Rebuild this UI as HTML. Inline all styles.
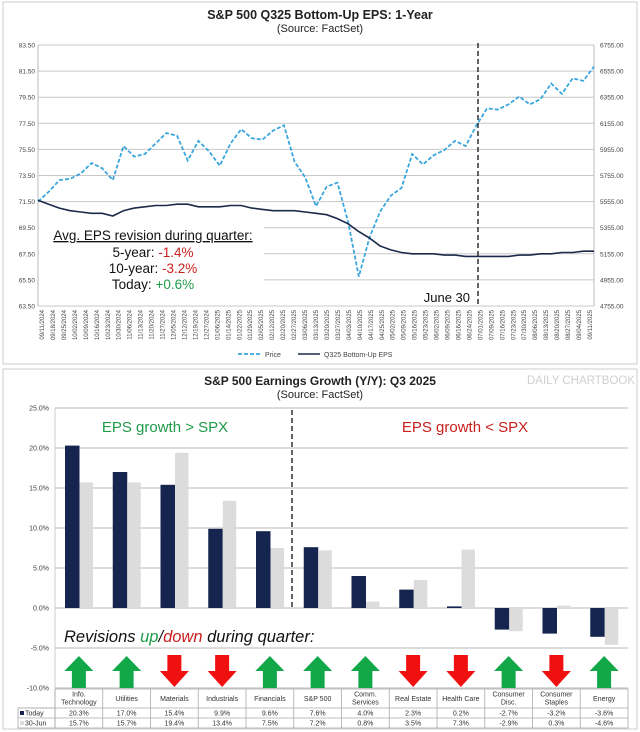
<!DOCTYPE html>
<html><head><meta charset="utf-8"><style>
html,body{margin:0;padding:0;background:#fff;}
svg{display:block;font-family:"Liberation Sans",Arial,sans-serif;}
</style></head><body>
<svg id="c" width="640" height="732" viewBox="0 0 640 732" xmlns="http://www.w3.org/2000/svg">
<rect x="3" y="2" width="634" height="362" fill="#fff" stroke="#ccc"/>
<rect x="3" y="369" width="634" height="360" fill="#fff" stroke="#ccc"/>
<text x="320" y="19" text-anchor="middle" font-size="12.5" font-weight="bold" fill="#222">S&amp;P 500 Q325 Bottom-Up EPS: 1-Year</text>
<text x="320" y="32" text-anchor="middle" font-size="11" fill="#222">(Source: FactSet)</text>
<g id="topg"></g>
<text x="320" y="385" text-anchor="middle" font-size="12" font-weight="bold" fill="#222">S&amp;P 500 Earnings Growth (Y/Y): Q3 2025</text>
<text x="320" y="398" text-anchor="middle" font-size="11" fill="#222">(Source: FactSet)</text>
<text x="635" y="384" text-anchor="end" font-size="11.5" fill="#d0d0d0">DAILY CHARTBOOK</text>
<g id="botg"></g>
</svg>
<script>
const NS="http://www.w3.org/2000/svg";
// ---------- top chart data ----------
const dateLabels=["09/11/2024","09/18/2024","09/25/2024","10/02/2024","10/09/2024","10/16/2024","10/23/2024","10/30/2024","11/06/2024","11/13/2024","11/20/2024","11/27/2024","12/05/2024","12/12/2024","12/19/2024","12/27/2024","01/06/2025","01/14/2025","01/22/2025","01/29/2025","02/05/2025","02/12/2025","02/20/2025","02/27/2025","03/06/2025","03/13/2025","03/20/2025","03/27/2025","04/03/2025","04/10/2025","04/17/2025","04/25/2025","05/02/2025","05/09/2025","05/16/2025","05/23/2025","06/02/2025","06/09/2025","06/16/2025","06/24/2025","07/01/2025","07/09/2025","07/16/2025","07/23/2025","07/30/2025","08/06/2025","08/13/2025","08/20/2025","08/27/2025","09/04/2025","09/11/2025"];
const priceValues=[5555,5630,5720,5730,5770,5850,5810,5720,5980,5900,5920,6000,6080,6060,5870,6020,5940,5830,6000,6110,6040,6030,6100,6140,5860,5740,5520,5670,5700,5400,4980,5280,5480,5600,5660,5920,5840,5910,5950,6020,5980,6140,6270,6260,6300,6360,6300,6340,6460,6380,6500,6480,6590];
const epsValues=[71.6,71.3,71.0,70.8,70.7,70.6,70.6,70.4,70.8,71.0,71.1,71.2,71.2,71.3,71.3,71.1,71.1,71.1,71.2,71.2,71.0,70.9,70.8,70.8,70.8,70.7,70.6,70.5,70.2,69.8,69.2,68.7,68.1,67.8,67.6,67.5,67.5,67.5,67.4,67.4,67.3,67.3,67.3,67.3,67.3,67.4,67.4,67.5,67.5,67.6,67.6,67.7,67.7];
const leftTicks=["83.50","81.50","79.50","77.50","75.50","73.50","71.50","69.50","67.50","65.50","63.50"];
const rightTicks=["6755.00","6555.00","6355.00","6155.00","5955.00","5755.00","5555.00","5355.00","5155.00","4955.00","4755.00"];
// ---------- bottom chart data ----------
const categories=["Info. Technology","Utilities","Materials","Industrials","Financials","S&P 500","Comm. Services","Real Estate","Health Care","Consumer Disc.","Consumer Staples","Energy"];
const todayValues=[20.3,17.0,15.4,9.9,9.6,7.6,4.0,2.3,0.2,-2.7,-3.2,-3.6];
const juneValues=[15.7,15.7,19.4,13.4,7.5,7.2,0.8,3.5,7.3,-2.9,0.3,-4.6];
const revisions=["up","up","down","down","up","up","up","down","down","up","down","up"];
const pctTicks=[25,20,15,10,5,0,-5,-10];

function el(tag,attrs,parent,text){const e=document.createElementNS(NS,tag);for(const k in attrs)e.setAttribute(k,attrs[k]);if(text!==undefined)e.textContent=text;parent.appendChild(e);return e;}
const topG=document.getElementById('topg'),botG=document.getElementById('botg');
const PX0=38,PX1=594,PY0=45,PY1=306;
const yL=v=>PY0+(83.5-v)/20*(PY1-PY0);
const yR=v=>PY0+(6755-v)/2000*(PY1-PY0);
const xT=i=>PX0+i/(priceValues.length-1)*(PX1-PX0);
for(let i=0;i<leftTicks.length;i++){
  const y=PY0+i*(PY1-PY0)/10;
  let g=el('line',{x1:PX0,x2:PX1,y1:y,y2:y,stroke:'#c8c8c8','stroke-width':1},topG);
  
  let t=el('text',{x:PX0-3,y:y+2.5,'text-anchor':'end','font-size':6.5,fill:'#444'},topG,leftTicks[i]);
  
  let r=el('text',{x:PX1+6,y:y+2.5,'font-size':6.5,fill:'#444'},topG,rightTicks[i]);
  
}
el('line',{x1:PX0,x2:PX0,y1:PY0,y2:PY1,stroke:'#bbb'},topG);
el('line',{x1:PX1,x2:PX1,y1:PY0,y2:PY1,stroke:'#bbb'},topG);
dateLabels.forEach((d,i)=>{
  const x=PX0+4+i*(PX1-PX0-8)/(dateLabels.length-1);
  const t=el('text',{x:0,y:0,'font-size':6,fill:'#444','text-anchor':'end',transform:`translate(${x+2},${PY1+4}) rotate(-90)`},topG,d);
  
});
let box=el('rect',{x:39,y:218,width:225,height:86,fill:'#fff'},topG);

const pPts=priceValues.map((v,i)=>xT(i).toFixed(1)+','+yR(v).toFixed(1)).join(' ');
let pl=el('polyline',{points:pPts,fill:'none',stroke:'#3aa6dd','stroke-width':1.8,'stroke-dasharray':'4,2'},topG);

const ePts=epsValues.map((v,i)=>xT(i).toFixed(1)+','+yL(v).toFixed(1)).join(' ');
let ep=el('polyline',{points:ePts,fill:'none',stroke:'#1b2a4a','stroke-width':1.6},topG);

let jl=el('line',{x1:478,x2:478,y1:PY0-2,y2:PY1,stroke:'#111','stroke-width':1.3,'stroke-dasharray':'5,3'},topG);

let jt=el('text',{x:470,y:302,'text-anchor':'end','font-size':13,fill:'#111'},topG,'June 30');

const ann=[['Avg. EPS revision during quarter:',null,240],['5-year: ','-1.4%',257],['10-year: ','-3.2%',273],['Today: ','+0.6%',289]];
ann.forEach((a,i)=>{
  const t=el('text',{x:153,y:a[2],'text-anchor':'middle','font-size':13.5,fill:'#111','text-decoration':i==0?'underline':'none'},topG);
  
  el('tspan',{},t,a[0]);
  if(a[1])el('tspan',{fill:a[1][0]=='+'?'#1f9b4a':'#c8201e'},t,a[1]);
});
let lg=el('g',{},topG);
el('line',{x1:238,x2:260,y1:354,y2:354,stroke:'#3aa6dd','stroke-width':1.8,'stroke-dasharray':'4,2'},lg);
el('text',{x:265,y:357,'font-size':7,fill:'#444'},lg,'Price');
el('line',{x1:298,x2:320,y1:354,y2:354,stroke:'#1b2a4a','stroke-width':1.6},lg);
el('text',{x:324,y:357,'font-size':7,fill:'#444'},lg,'Q325 Bottom-Up EPS');

const BX0=55,BX1=628,BY25=408,SC=8;
const yB=v=>BY25+(25-v)*SC;
const cw=(BX1-BX0)/categories.length;
pctTicks.forEach(v=>{
  const y=yB(v);
  let g=el('line',{x1:BX0,x2:BX1,y1:y,y2:y,stroke:'#c8c8c8','stroke-width':1.2},botG);
  
  let t=el('text',{x:BX0-6,y:y+2.5,'text-anchor':'end','font-size':7,fill:'#444'},botG,v.toFixed(1)+'%');
  
});
el('line',{x1:BX0,x2:BX0,y1:BY25,y2:yB(-10),stroke:'#ccc'},botG);
categories.forEach((c,i)=>{
  const x0=BX0+i*cw;
  const t=todayValues[i],j=juneValues[i];
  let b1=el('rect',{x:x0+10,y:Math.min(yB(t),yB(0)),width:14.5,height:Math.abs(yB(t)-yB(0)),fill:'#15254f'},botG);
  
  let b2=el('rect',{x:x0+24.5,y:Math.min(yB(j),yB(0)),width:13.5,height:Math.abs(yB(j)-yB(0)),fill:'#dcdcdc'},botG);
  
  const cx=x0+cw/2,up=revisions[i]=='up';
  const pts=up?[[cx,656],[cx+14.5,671],[cx+7,671],[cx+7,688],[cx-7,688],[cx-7,671],[cx-14.5,671]]:[[cx-7,655],[cx+7,655],[cx+7,671],[cx+14.5,671],[cx,687],[cx-14.5,671],[cx-7,671]];
  let a=el('polygon',{points:pts.map(p=>p.join(',')).join(' '),fill:up?'#12a84a':'#f01010'},botG);
  
});
let dl=el('line',{x1:292,x2:292,y1:410,y2:yB(0),stroke:'#111','stroke-width':1.3,'stroke-dasharray':'5,3'},botG);

let g1=el('text',{x:165,y:432,'text-anchor':'middle','font-size':15,fill:'#1f9b4a'},botG,'EPS growth > SPX');

let g2=el('text',{x:465,y:432,'text-anchor':'middle','font-size':15,fill:'#c8201e'},botG,'EPS growth < SPX');

let rv=el('text',{x:64,y:642,'font-size':16.5,'font-style':'italic',fill:'#111'},botG);

el('tspan',{},rv,'Revisions ');el('tspan',{fill:'#1f9b4a'},rv,'up');el('tspan',{},rv,'/');el('tspan',{fill:'#c8201e'},rv,'down');el('tspan',{},rv,' during quarter:');
const TY0=689,TY1=708,TY2=718,TY3=728;
let tb=el('g',{},botG);
el('rect',{x:BX0,y:TY0,width:BX1-BX0,height:TY3-TY0,fill:'none',stroke:'#aaa','stroke-width':0.8},tb);
el('rect',{x:18,y:TY1,width:BX0-18,height:TY3-TY1,fill:'none',stroke:'#aaa','stroke-width':0.8},tb);
[TY1,TY2].forEach(y=>el('line',{x1:18,x2:BX1,y1:y,y2:y,stroke:'#aaa','stroke-width':0.8},tb));
el('rect',{x:20,y:TY1+3,width:4,height:4,fill:'#15254f'},tb);
el('text',{x:25,y:TY1+7.5,'font-size':7,fill:'#333'},tb,'Today');
el('rect',{x:20,y:TY2+3,width:4,height:4,fill:'#dcdcdc'},tb);
el('text',{x:25,y:TY2+7.5,'font-size':7,fill:'#333'},tb,'30-Jun');
const fmt=v=>v.toFixed(1)+'%';
categories.forEach((c,i)=>{
  const x0=BX0+i*cw,cx=x0+cw/2;
  el('line',{x1:x0,x2:x0,y1:TY0,y2:TY3,stroke:'#aaa','stroke-width':0.8},tb);
  const parts=c.split(' ');
  let lines=(c=="Real Estate"||c=="Health Care"||c=="S&P 500")?[c]:(parts.length>1?[parts[0],parts.slice(1).join(' ')]:[c]);
  if(lines.length==1){const t=el('text',{x:cx,y:TY0+12,'text-anchor':'middle','font-size':7,fill:'#333'},tb,c);}
  else lines.forEach((l,k)=>{const t=el('text',{x:cx,y:TY0+7.5+k*8,'text-anchor':'middle','font-size':7,fill:'#333'},tb,l);});
  const a=el('text',{x:cx,y:TY1+7.5,'text-anchor':'middle','font-size':7,fill:'#333'},tb,fmt(todayValues[i]));
  
  const b=el('text',{x:cx,y:TY2+7.5,'text-anchor':'middle','font-size':7,fill:'#333'},tb,fmt(juneValues[i]));
  
});
</script>
</body></html>
